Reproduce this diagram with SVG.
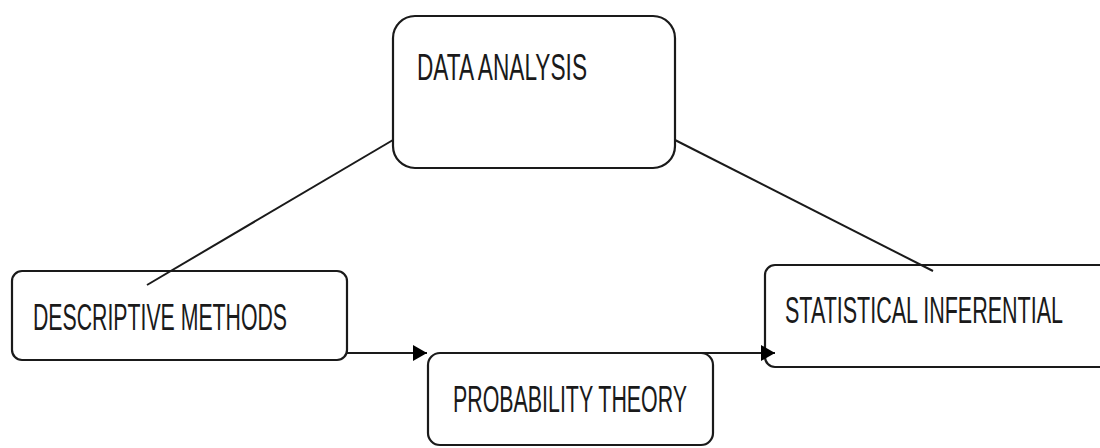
<svg xmlns="http://www.w3.org/2000/svg" width="1100" height="448" viewBox="0 0 1100 448">
<style>
.box{fill:#fff;stroke:#1a1a1a;stroke-width:2.2}
.lbl{font-family:"Liberation Sans",Arial,sans-serif;font-size:36px;fill:#1a1a1a}
.conn{stroke:#1a1a1a;stroke-width:2;fill:none}
</style>
<defs>
<marker id="arr" viewBox="0 0 14 16" refX="14" refY="8" markerWidth="14" markerHeight="16" markerUnits="userSpaceOnUse" orient="auto">
<path d="M0,0 L14,8 L0,16 Z" fill="#000"/>
</marker>
</defs>
<g id="data-analysis">
<rect class="box" x="393" y="16" width="282" height="152" rx="22"/>
<text class="lbl" x="417" y="80" textLength="170" lengthAdjust="spacingAndGlyphs">DATA ANALYSIS</text>
</g>
<g id="descriptive-methods">
<rect class="box" x="12" y="271" width="335" height="89" rx="10"/>
<text class="lbl" x="33" y="330" textLength="254" lengthAdjust="spacingAndGlyphs">DESCRIPTIVE METHODS</text>
</g>
<g id="probability-theory">
<rect class="box" x="428" y="353" width="285" height="92" rx="12"/>
<text class="lbl" x="453" y="412" textLength="234" lengthAdjust="spacingAndGlyphs">PROBABILITY THEORY</text>
</g>
<g id="statistical-inferential">
<rect class="box" x="765" y="265" width="345" height="102" rx="10"/>
<text class="lbl" x="785" y="323" textLength="278" lengthAdjust="spacingAndGlyphs">STATISTICAL INFERENTIAL</text>
</g>
<g id="connectors">
<line class="conn" x1="147" y1="285" x2="393" y2="140"/>
<line class="conn" x1="675" y1="140" x2="933" y2="271"/>
<line class="conn" x1="347" y1="353" x2="427" y2="353" marker-end="url(#arr)"/>
<line class="conn" x1="700" y1="353" x2="775" y2="353" marker-end="url(#arr)"/>
</g>
</svg>
